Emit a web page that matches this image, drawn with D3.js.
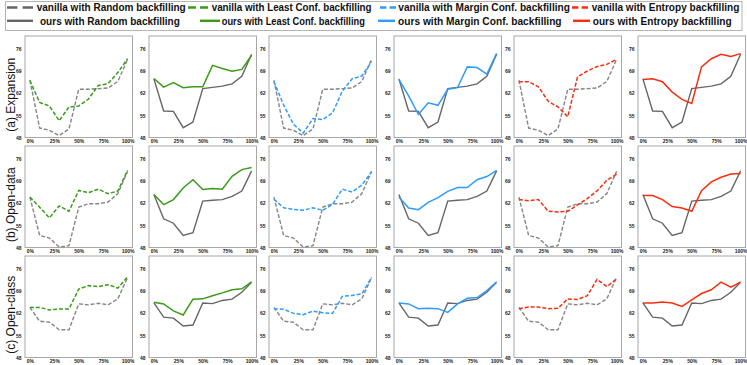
<!DOCTYPE html>
<html>
<head>
<meta charset="utf-8">
<script src="https://cdn.jsdelivr.net/npm/d3@7"></script>
<style>
  body { margin: 0; background: #fff; }
</style>
</head>
<body>
<div id="chartContainer"></div>
<script>
'use strict';

// labelled-set steps on the x axis and tick labels
const steps = [0, 10, 20, 30, 40, 50, 60, 70, 80, 90, 100];
const xTickValues = [0, 25, 50, 75, 100];
const xTickLabels = ["0%", "25%", "50%", "75%", "100%"];
const yTickValues = [48, 55, 62, 69, 76];
const rowLabels = ["(a) Expansion", "(b) Open-data", "(c) Open-class"];
const methodNames = ["Random", "Least Conf.", "Margin Conf.", "Entropy"];
const methodColors = ["#666666", "#3a9b17", "#2f9bff", "#fa2d0f"];

// (a) Expansion
const expVanillaRandom = [66.2, 51.0, 50.3, 48.6, 50.7, 63.3, 63.3, 63.5, 63.7, 65.8, 72.8];
const expOursRandom = [66.6, 56.4, 56.3, 51.1, 52.9, 63.5, 63.9, 64.3, 65.0, 67.4, 74.4];
const expVanillaLC = [66.1, 59.1, 58.0, 53.3, 57.7, 58.0, 60.2, 64.5, 65.1, 68.6, 73.0];
const expOursLC = [66.7, 64.0, 65.4, 63.8, 64.1, 64.1, 70.9, 69.9, 69.0, 69.6, 74.1];
const expVanillaMargin = [65.7, 58.3, 52.2, 49.4, 54.0, 53.7, 55.8, 62.7, 66.6, 67.5, 72.1];
const expOursMargin = [66.4, 61.2, 55.3, 59.0, 58.2, 63.3, 63.8, 70.4, 70.2, 68.1, 74.7];
const expVanillaEntropy = [65.7, 65.7, 64.1, 59.5, 57.7, 54.6, 67.2, 69.1, 70.5, 71.2, 72.8];
const expOursEntropy = [66.4, 66.6, 65.7, 62.4, 60.1, 58.8, 70.4, 73.0, 74.4, 73.7, 74.6];

// (b) Open-data
const odVanillaRandom = [64.0, 51.8, 51.0, 48.1, 48.6, 60.8, 61.9, 61.9, 62.4, 65.1, 72.2];
const odOursRandom = [64.8, 57.1, 55.7, 51.8, 52.7, 62.7, 63.0, 63.2, 64.2, 65.9, 72.3];
const odVanillaLC = [64.0, 60.8, 57.4, 61.2, 59.5, 66.1, 65.4, 66.5, 65.1, 65.9, 72.5];
const odOursLC = [64.8, 61.6, 63.2, 66.9, 69.5, 66.4, 66.7, 66.5, 70.6, 72.7, 73.4];
const odVanillaMargin = [63.3, 60.6, 60.1, 59.8, 60.6, 59.8, 61.7, 66.5, 65.6, 67.8, 72.0];
const odOursMargin = [64.0, 60.5, 60.0, 62.3, 63.8, 65.8, 67.0, 67.0, 69.5, 70.5, 72.5];
const odVanillaEntropy = [63.2, 62.8, 63.2, 59.5, 59.3, 59.5, 61.5, 63.5, 66.0, 69.3, 71.3];
const odOursEntropy = [64.5, 64.5, 63.2, 61.0, 60.5, 59.5, 66.0, 68.8, 70.3, 71.3, 71.5];

// (c) Open-class
const ocVanillaRandom = [63.9, 59.5, 59.2, 56.8, 56.8, 65.0, 64.7, 65.2, 64.7, 66.6, 73.4];
const ocOursRandom = [65.3, 60.8, 60.5, 58.0, 58.3, 65.3, 65.1, 66.1, 66.5, 68.7, 71.9];
const ocVanillaLC = [63.9, 63.9, 63.1, 63.4, 63.4, 69.7, 70.8, 70.5, 71.1, 70.0, 73.6];
const ocOursLC = [65.5, 65.0, 62.8, 61.5, 66.5, 66.6, 67.6, 68.5, 69.5, 69.8, 72.0];
const ocVanillaMargin = [63.5, 63.3, 62.0, 61.6, 62.7, 62.2, 62.0, 67.4, 67.7, 68.2, 73.4];
const ocOursMargin = [65.3, 65.0, 63.5, 63.6, 63.5, 62.3, 65.0, 66.8, 67.0, 69.2, 72.0];
const ocVanillaEntropy = [63.5, 64.0, 64.0, 63.5, 63.6, 66.6, 66.4, 67.6, 72.8, 70.5, 72.9];
const ocOursEntropy = [65.3, 65.3, 65.6, 65.3, 64.2, 66.3, 68.3, 69.5, 71.9, 70.3, 71.9];

const rows = [
    { label: rowLabels[0], vanillaRandom: expVanillaRandom, oursRandom: expOursRandom,
      vanilla: [expVanillaLC, expVanillaMargin, expVanillaEntropy],
      ours: [expOursLC, expOursMargin, expOursEntropy] },
    { label: rowLabels[1], vanillaRandom: odVanillaRandom, oursRandom: odOursRandom,
      vanilla: [odVanillaLC, odVanillaMargin, odVanillaEntropy],
      ours: [odOursLC, odOursMargin, odOursEntropy] },
    { label: rowLabels[2], vanillaRandom: ocVanillaRandom, oursRandom: ocOursRandom,
      vanilla: [ocVanillaLC, ocVanillaMargin, ocVanillaEntropy],
      ours: [ocOursLC, ocOursMargin, ocOursEntropy] }
];

// layout
const totalWidth = 747, totalHeight = 365;
const panelLefts = [25, 149, 269, 394, 514, 638];
const rowTops = [36, 146, 256];
const panelWidth = 107.5, panelHeight = 101.5;
const dashPattern = "4,1.9";

const svg = d3.select("#chartContainer")
    .append("svg")
    .attr("width", totalWidth)
    .attr("height", totalHeight)
    .style("font-family", "'Liberation Sans', Arial, sans-serif");

const x = d3.scaleLinear().domain([-5, 105]).range([0, panelWidth]);
const y = d3.scaleLinear().domain([48, 80.2]).range([panelHeight, 0]);

const line = d3.line()
    .x((d, i) => x(steps[i]))
    .y(d => y(d));

// draws one small panel: a gray baseline and one coloured method
const drawPanel = (g, baseline, values, color, dashed) => {
    g.append("rect")
        .attr("width", panelWidth)
        .attr("height", panelHeight)
        .attr("fill", "none")
        .attr("stroke", "#a8a8a8")
        .attr("stroke-width", 1);

    const yAxis = g.append("g")
        .call(d3.axisLeft(y).tickValues(yTickValues).tickSize(0).tickPadding(3.5));
    const xAxis = g.append("g")
        .attr("transform", "translate(0," + panelHeight + ")")
        .call(d3.axisBottom(x).tickValues(xTickValues)
            .tickFormat((d, i) => xTickLabels[i]).tickSize(0).tickPadding(2.4));
    [xAxis, yAxis].forEach(a => {
        a.select(".domain").remove();
        a.selectAll("text")
            .style("font-size", "5px")
            .style("font-weight", "bold")
            .attr("fill", "#222");
    });

    g.append("path")
        .datum(baseline)
        .attr("d", line)
        .attr("fill", "none")
        .attr("stroke", dashed ? "#858585" : "#666666")
        .attr("stroke-width", 1.4)
        .attr("stroke-dasharray", dashed ? dashPattern : null);

    g.append("path")
        .datum(values)
        .attr("d", line)
        .attr("fill", "none")
        .attr("stroke", color)
        .attr("stroke-width", 1.5)
        .attr("stroke-dasharray", dashed ? dashPattern : null);
}

rows.forEach((row, r) => {
    panelLefts.forEach((left, c) => {
        const m = Math.floor(c / 2);
        const isOurs = c % 2 === 1;
        const g = svg.append("g")
            .attr("transform", "translate(" + left + "," + rowTops[r] + ")");
        drawPanel(g,
            isOurs ? row.oursRandom : row.vanillaRandom,
            isOurs ? row.ours[m] : row.vanilla[m],
            methodColors[m + 1],
            !isOurs);
    });

    svg.append("text")
        .attr("transform", "translate(14.5," + (rowTops[r] + panelHeight / 2 + 8) + ") rotate(-90)")
        .attr("text-anchor", "middle")
        .style("font-size", "12px")
        .attr("fill", "#111")
        .text(row.label);
});

// legend: row 1 vanilla (dashed), row 2 ours (solid)
const legendRows = [
    { prefix: "vanilla with ", dashed: true, lineY: 7.5, textY: 11.3,
      lines: [[7, 33], [188, 208], [380, 396], [572, 588]],
      texts: [[36.7, 186], [211.7, 371.7], [398.3, 570], [591.7, 739.5]] },
    { prefix: "ours with ", dashed: false, lineY: 20.8, textY: 24.6,
      lines: [[7, 33], [200, 220], [378, 395], [573, 590]],
      texts: [[40, 180], [221.7, 365], [398, 561.7], [592.7, 731.7]] }
];

svg.append("rect")
    .attr("x", 5.5).attr("y", 1.5)
    .attr("width", 736.5).attr("height", 29)
    .attr("fill", "#fff")
    .attr("stroke", "#b4b4b4")
    .attr("stroke-width", 1);

legendRows.forEach(lr => {
    methodNames.forEach((name, i) => {
        const [x0, x1] = lr.lines[i];
        const len = x1 - x0;
        svg.append("line")
            .attr("x1", x0).attr("x2", x1)
            .attr("y1", lr.lineY).attr("y2", lr.lineY)
            .attr("stroke", methodColors[i])
            .attr("stroke-width", 2.4)
            .attr("stroke-dasharray", lr.dashed ? (len * 0.4) + "," + (len * 0.2) : null);

        // squeeze each label horizontally to the width it has in the figure
        const [t0, t1] = lr.texts[i];
        const tg = svg.append("g");
        const t = tg.append("text")
            .attr("x", 0)
            .attr("y", 0)
            .style("font-size", "11.5px")
            .style("font-weight", "bold")
            .attr("fill", "#111")
            .text(lr.prefix + name + " backfilling");
        const natural = t.node().getComputedTextLength();
        tg.attr("transform", "translate(" + t0 + "," + lr.textY + ") scale(" + ((t1 - t0) / natural) + ",1)");
    });
});
</script>
</body>
</html>
